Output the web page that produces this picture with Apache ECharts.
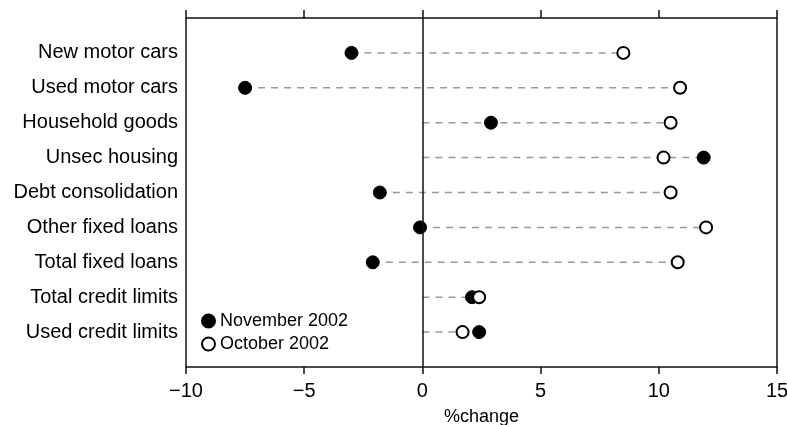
<!DOCTYPE html>
<html>
<head>
<meta charset="utf-8">
<script src="https://cdn.jsdelivr.net/npm/echarts@6/dist/echarts.min.js"></script>
<style>
  html, body { margin: 0; padding: 0; background: #fff; }
  #chart { width: 787px; height: 425px; }
</style>
</head>
<body>
<div id="chart"></div>
<script>
var categories = ['New motor cars', 'Used motor cars', 'Household goods', 'Unsec housing',
  'Debt consolidation', 'Other fixed loans', 'Total fixed loans', 'Total credit limits', 'Used credit limits'];
var nov2002 = [-3.0, -7.5, 2.9, 11.9, -1.8, -0.1, -2.1, 2.1, 2.4];
var oct2002 = [8.5, 10.9, 10.5, 10.2, 10.5, 12.0, 10.8, 2.4, 1.7];
var xTicks = [-10, -5, 0, 5, 10, 15];

var font = 'Liberation Sans, Arial, sans-serif';

// dashed connectors run from the lowest of (0, nov, oct) to the highest
var spans = categories.map(function (c, i) {
  return [Math.min(0, nov2002[i], oct2002[i]), Math.max(0, nov2002[i], oct2002[i]), i];
});

var chart = echarts.init(document.getElementById('chart'));

chart.setOption({
  animation: false,
  textStyle: { fontFamily: font, color: '#000' },
  grid: { left: 186, right: 10, top: 18, bottom: 58, outerBoundsMode: 'none', containLabel: false },
  legend: {
    orient: 'vertical',
    left: 196,
    top: 307,
    itemWidth: 13,
    itemHeight: 13,
    itemGap: 5,
    data: ['November 2002', 'October 2002'],
    textStyle: { fontSize: 18, color: '#000', fontFamily: font, lineHeight: 18 }
  },
  xAxis: [{
    type: 'value',
    position: 'bottom',
    min: xTicks[0],
    max: xTicks[xTicks.length - 1],
    interval: 5,
    name: '%change',
    nameLocation: 'middle',
    nameGap: 41,
    nameTextStyle: { fontSize: 18, color: '#000' },
    splitLine: { show: false },
    axisLine: { onZero: false, lineStyle: { color: '#111', width: 1.5 } },
    axisTick: { length: 7, lineStyle: { color: '#111', width: 1.5 } },
    axisLabel: {
      fontSize: 20,
      color: '#000',
      margin: 14,
      formatter: function (v) { return v < 0 ? '\u2212' + Math.abs(v) : String(v); }
    }
  }, {
    type: 'value',
    position: 'top',
    min: xTicks[0],
    max: xTicks[xTicks.length - 1],
    interval: 5,
    splitLine: { show: false },
    axisLine: { onZero: false, lineStyle: { color: '#111', width: 1.5 } },
    axisTick: { length: 8, lineStyle: { color: '#111', width: 1.5 } },
    axisLabel: { show: false }
  }],
  yAxis: [{
    type: 'value',
    position: 'left',
    inverse: true,
    min: -1,
    max: 9,
    interval: 1,
    splitLine: { show: false },
    axisLine: { show: true, onZero: false, lineStyle: { color: '#111', width: 1.5 } },
    axisTick: { show: false },
    axisLabel: {
      fontSize: 20,
      color: '#000',
      margin: 8,
      formatter: function (v) { return categories[v] || ''; }
    }
  }, {
    type: 'value',
    position: 'right',
    inverse: true,
    min: -1,
    max: 9,
    interval: 1,
    splitLine: { show: false },
    axisLine: { show: true, onZero: false, lineStyle: { color: '#111', width: 1.5 } },
    axisTick: { show: false },
    axisLabel: { show: false }
  }],
  series: [{
    type: 'custom',
    silent: true,
    encode: { x: [0, 1], y: 2 },
    data: spans,
    renderItem: function (params, api) {
      var a = api.coord([api.value(0), api.value(2)]);
      var b = api.coord([api.value(1), api.value(2)]);
      return {
        type: 'line',
        shape: { x1: a[0], y1: a[1], x2: b[0], y2: b[1] },
        style: { stroke: '#999', lineWidth: 1.5, lineDash: [7, 6] }
      };
    },
    z: 1
  }, {
    name: 'November 2002',
    type: 'scatter',
    symbol: 'circle',
    symbolSize: 13,
    itemStyle: { color: '#000', borderColor: '#000', borderWidth: 1, opacity: 1 },
    data: nov2002.map(function (v, i) { return [v, i]; }),
    markLine: {
      silent: true,
      symbol: 'none',
      label: { show: false },
      lineStyle: { color: '#111', width: 1.5, type: 'solid' },
      data: [{ xAxis: 0 }]
    },
    z: 3
  }, {
    name: 'October 2002',
    type: 'scatter',
    symbol: 'circle',
    symbolSize: 12,
    itemStyle: { color: '#fff', borderColor: '#000', borderWidth: 2, opacity: 1 },
    data: oct2002.map(function (v, i) { return [v, i]; }),
    z: 4
  }]
});
</script>
</body>
</html>
